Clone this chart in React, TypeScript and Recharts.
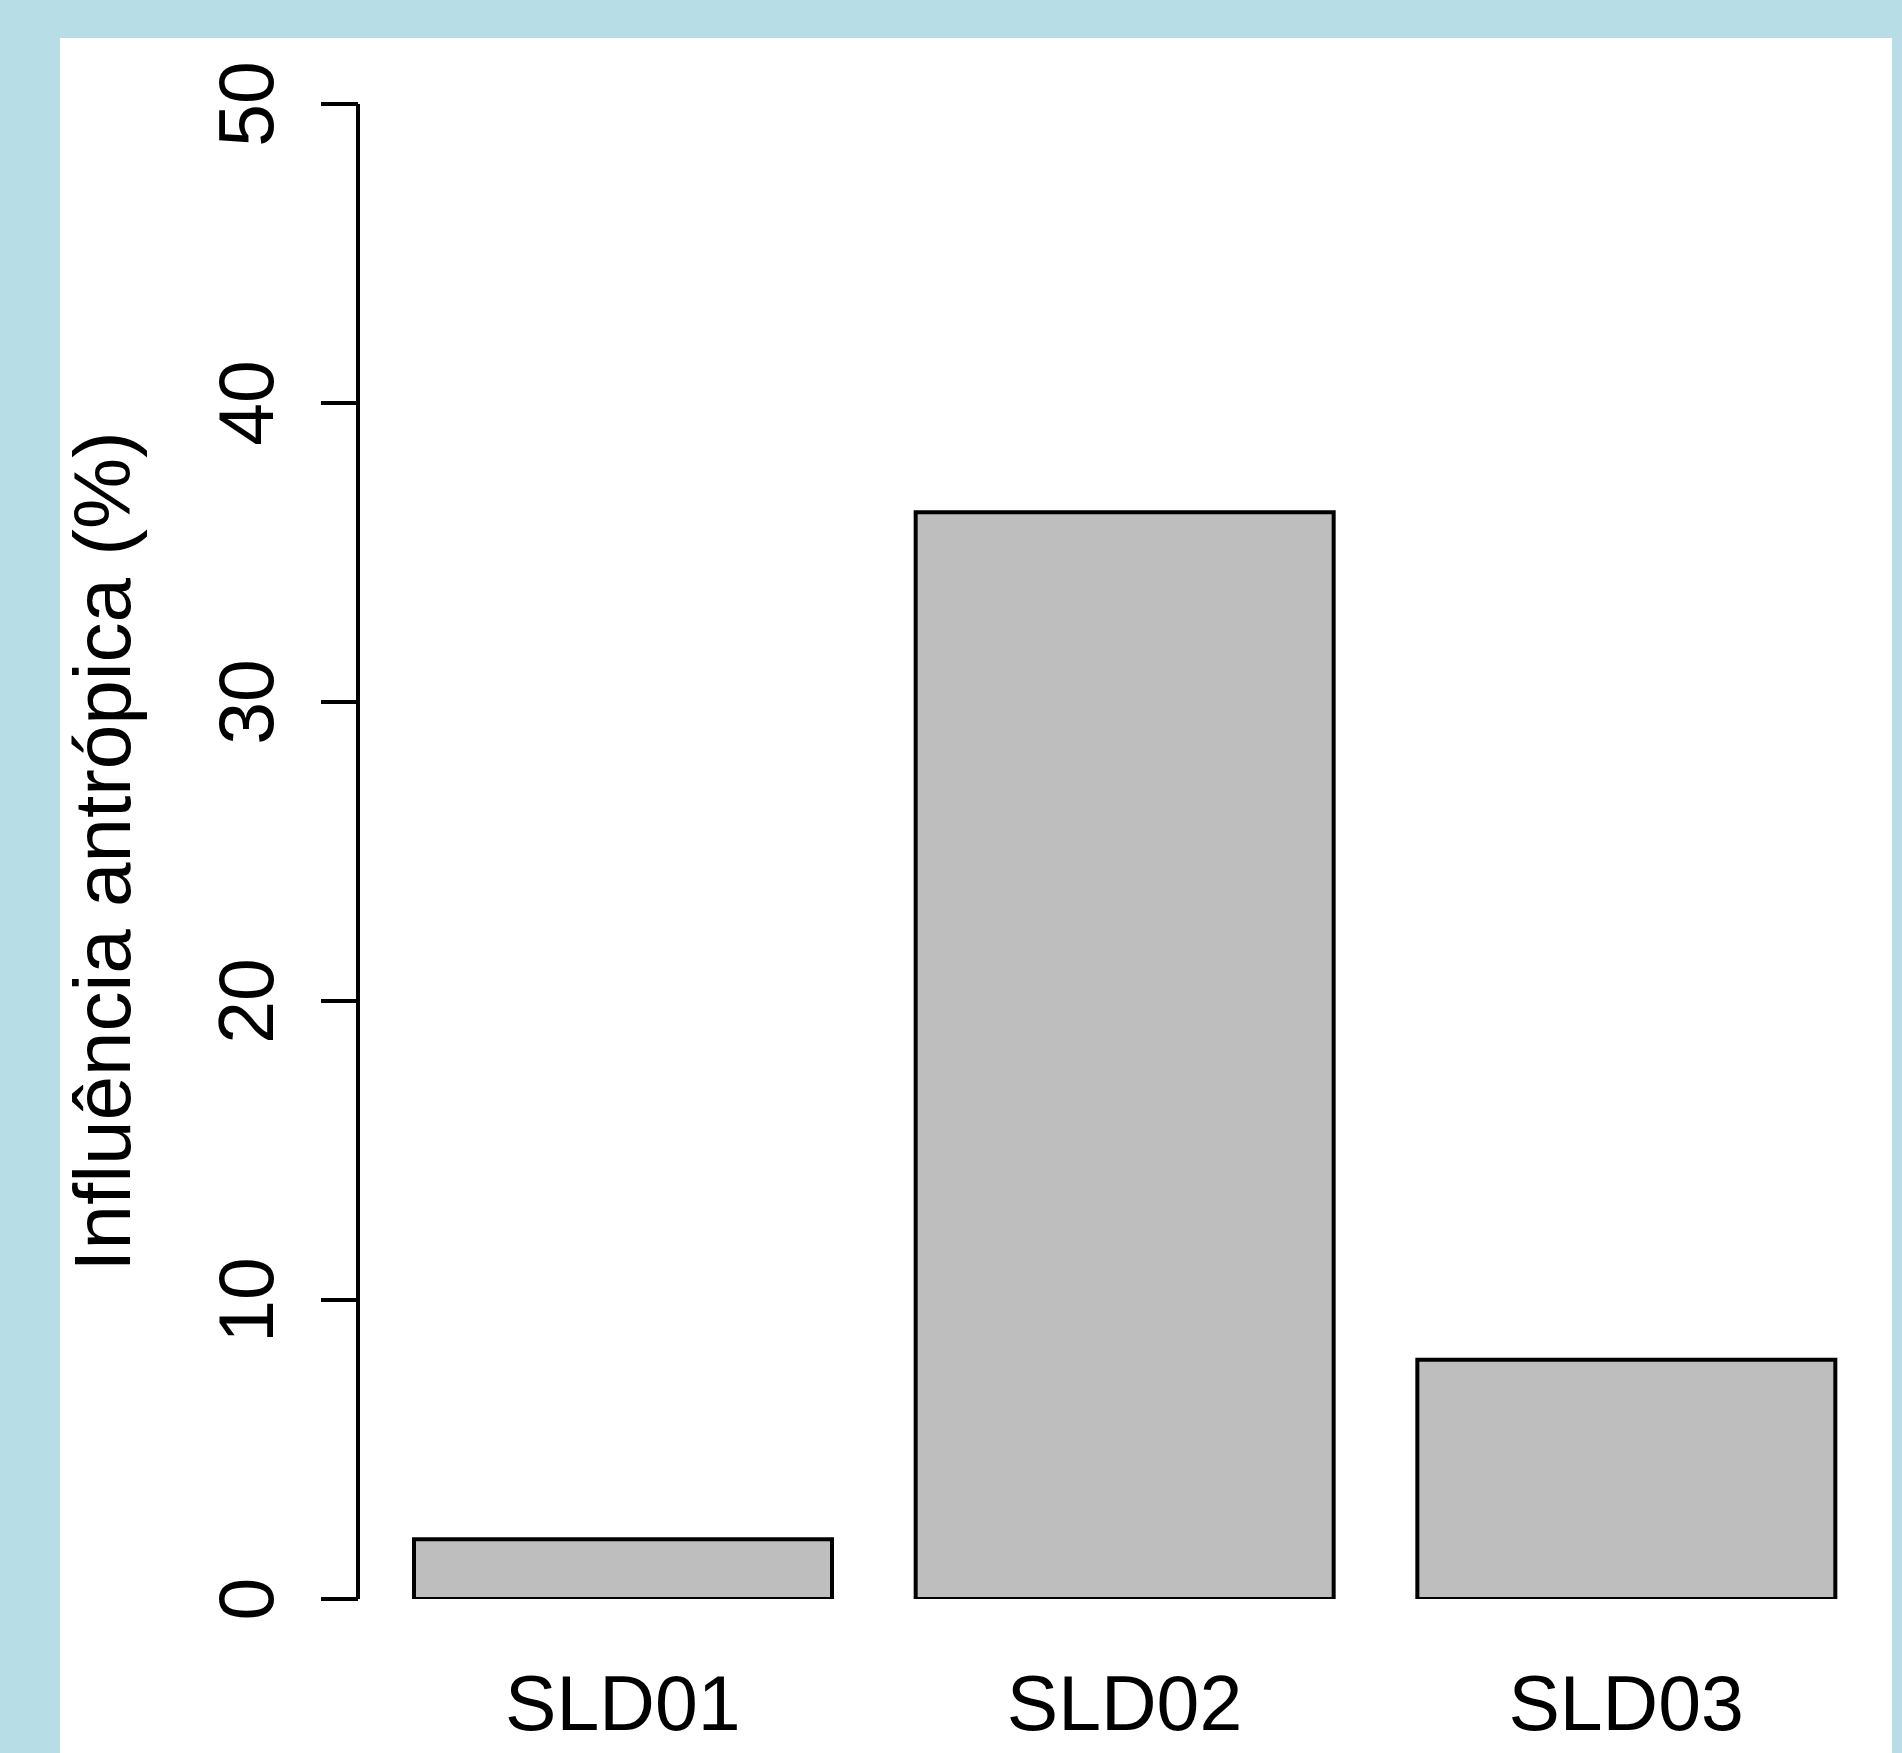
import { BarChart, Bar, XAxis, YAxis, Label } from 'recharts';

const sites = ['SLD01', 'SLD02', 'SLD03'];
const influence = [2.0, 36.35, 8.0];
const yTicks = [0, 10, 20, 30, 40, 50];

const chartData = sites.map((site, i) => ({ site, value: influence[i] }));

const FONT = '"Liberation Sans", Arial, Helvetica, sans-serif';

const YTick = ({ x, y, payload }: any) => (
  <text
    x={x - 48}
    y={y}
    transform={`rotate(-90, ${x - 48}, ${y})`}
    textAnchor="middle"
    fontFamily={FONT}
    fontSize={77}
    fill="#000"
  >
    {payload.value}
  </text>
);

const XTick = ({ x, y, payload }: any) => (
  <text x={x} y={y + 131} textAnchor="middle" fontFamily={FONT} fontSize={77} fill="#000">
    {payload.value}
  </text>
);

const YTitle = ({ viewBox }: any) => {
  const cx = viewBox.x + 72;
  const cy = viewBox.y + viewBox.height / 2;
  return (
    <text
      x={cx}
      y={cy}
      transform={`rotate(-90, ${cx}, ${cy})`}
      textAnchor="middle"
      fontFamily={FONT}
      fontSize={80}
      fill="#000"
    >
      Influência antrópica (%)
    </text>
  );
};

const App = () => {
  return (
    <div
      style={{
        position: 'absolute',
        left: 0,
        top: 0,
        width: 1902,
        height: 1753,
        background: '#B7DDE7',
        overflow: 'hidden',
      }}
    >
      <div
        style={{ position: 'absolute', left: 60, top: 38, width: 1832, height: 1715, background: '#fff' }}
      />
      <div style={{ position: 'absolute', left: 0, top: 0 }}>
        <BarChart
          width={1902}
          height={1753}
          data={chartData}
          margin={{ top: 104, right: 12, bottom: 54, left: 58 }}
        >
          <XAxis
            dataKey="site"
            height={100}
            axisLine={false}
            tickLine={false}
            tickSize={0}
            tickMargin={0}
            padding={{ left: 14, right: 13 }}
            tick={<XTick />}
            interval={0}
          />
          <YAxis
            width={300}
            domain={[0, 50]}
            ticks={yTicks}
            allowDataOverflow
            axisLine={{ stroke: '#000', strokeWidth: 4 }}
            tickLine={{ stroke: '#000', strokeWidth: 4 }}
            tickSize={37}
            tickMargin={0}
            tick={<YTick />}
            interval={0}
          >
            <Label content={<YTitle />} />
          </YAxis>
          <Bar
            dataKey="value"
            fill="#BEBEBE"
            stroke="#000"
            strokeWidth={4}
            barSize={418}
            isAnimationActive={false}
          />
        </BarChart>
      </div>
    </div>
  );
};

export default App;
